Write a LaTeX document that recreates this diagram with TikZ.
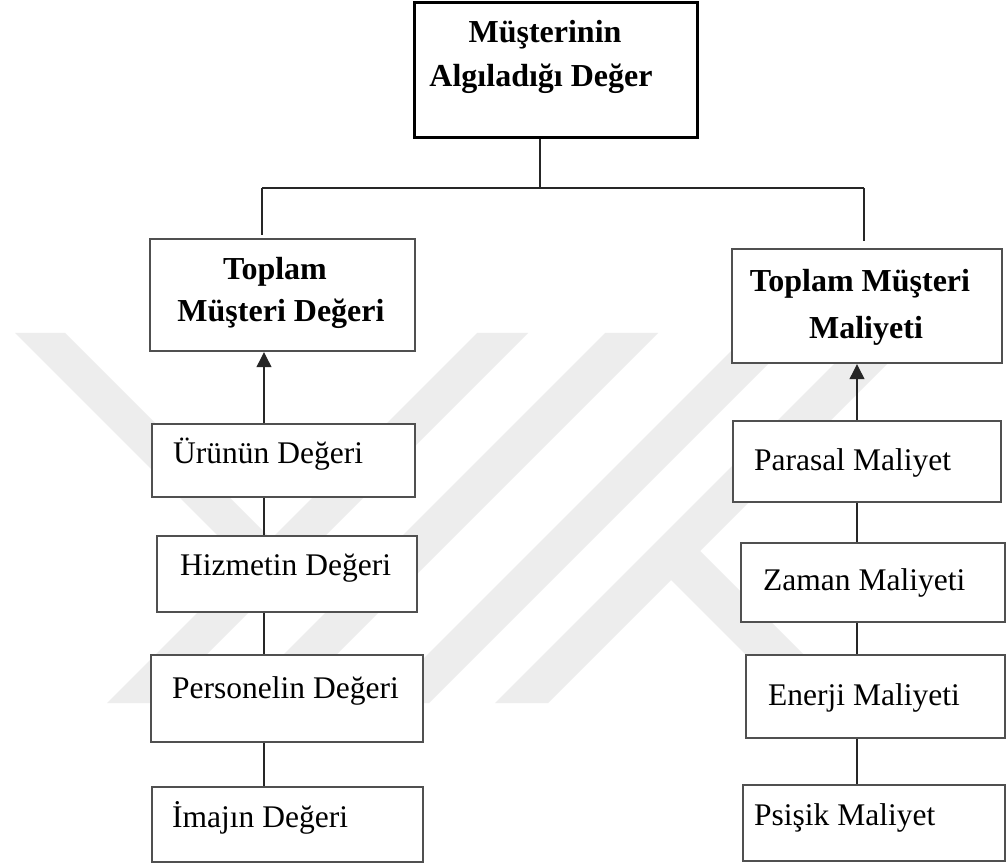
\documentclass[tikz,border=0pt]{standalone}
\usepackage{fontspec}
\newfontfamily\tnr{Liberation Serif}
\usetikzlibrary{arrows.meta,fit}
\definecolor{wm}{RGB}{237,237,237}
\definecolor{bord}{RGB}{80,80,80}
\begin{document}
\begin{tikzpicture}[x=1pt,y=-1pt,
  boxst/.style={draw=bord,fill=white,line width=2.4pt,inner sep=0pt},
  topbox/.style={draw=black,fill=white,line width=3pt,inner sep=0pt},
  reg/.style={font=\tnr\fontsize{31.5}{38}\selectfont,inner sep=0pt,anchor=base west},
  bld/.style={font=\tnr\bfseries\fontsize{32}{38}\selectfont,inner sep=0pt,anchor=base},
  link/.style={draw=black!85,line width=1.2pt},
  arr/.style={link,-{Triangle[width=15pt,length=15pt]}}
]
\useasboundingbox[fill=white] (0,0) rectangle (1006,866);
% watermark
\fill[wm] (15,333) -- (65,333) -- (296,564) -- (271,589) -- cycle;
\fill[wm] (477,333) -- (528,333) -- (158,703) -- (107,703) -- cycle;
\fill[wm] (605,333) -- (658,333) -- (288,703) -- (235,703) -- cycle;
\fill[wm] (749,333) -- (799,333) -- (429,703) -- (379,703) -- cycle;
\fill[wm] (865,333) -- (918,333) -- (548,703) -- (495,703) -- cycle;
\fill[wm] (665.5,574.5) -- (694.5,545.5) -- (852,703) -- (794,703) -- cycle;

% boxes
\node[topbox,fit={(414,3)(697,138)}] (top) {};
\node[boxst,fit={(150,239)(415,351)}] (tmd) {};
\node[boxst,fit={(732,249)(1002,363)}] (tmm) {};
\node[boxst,fit={(152,424)(415,497)}] (urun) {};
\node[boxst,fit={(157,536)(417,612)}] (hizm) {};
\node[boxst,fit={(151,655)(423,742)}] (pers) {};
\node[boxst,fit={(152,787)(423,862)}] (imaj) {};
\node[boxst,fit={(733,421)(1001,502)}] (para) {};
\node[boxst,fit={(741,543)(1005,622)}] (zama) {};
\node[boxst,fit={(746,655)(1005,738)}] (ener) {};
\node[boxst,fit={(743,785)(1005,861)}] (psis) {};

% texts
\node[bld] (t1a) at (545,43) {Müşterinin};
\node[bld] (t1b) at (541,87) {Algıladığı Değer};
\node[bld] (t2a) at (275,280) {Toplam};
\node[bld] (t2b) at (281,322) {Müşteri Değeri};
\node[bld] (t3a) at (860,292) {Toplam Müşteri};
\node[bld] (t3b) at (866,338) {Maliyeti};
\node[reg] (l1) at (173,463) {Ürünün Değeri};
\node[reg] (l2) at (180,575) {Hizmetin Değeri};
\node[reg] (l3) at (172,698) {Personelin Değeri};
\node[reg] (l4) at (172,827) {İmajın Değeri};
\node[reg] (r1) at (754,470) {Parasal Maliyet};
\node[reg] (r2) at (763,590) {Zaman Maliyeti};
\node[reg] (r3) at (768,705) {Enerji Maliyeti};
\node[reg] (r4) at (754,825) {Psişik Maliyet};

% connectors
\coordinate (jn) at (540,188);
\coordinate (jl) at (262,188);
\coordinate (jr) at (864,188);
\coordinate (el) at (262,235);
\coordinate (er) at (864,241);
\coordinate (cl) at (264,0);
\coordinate (cr) at (857,0);
\draw[link] (top.south -| jn) -- (jn);
\draw[link] (jl) -- (jr);
\draw[link] (jl) -- (el);
\draw[link] (jr) -- (er);
\draw[arr] (urun.north -| cl) -- (tmd.south -| cl);
\draw[link] (urun.south -| cl) -- (hizm.north -| cl);
\draw[link] (hizm.south -| cl) -- (pers.north -| cl);
\draw[link] (pers.south -| cl) -- (imaj.north -| cl);
\draw[arr] (para.north -| cr) -- (tmm.south -| cr);
\draw[link] (para.south -| cr) -- (zama.north -| cr);
\draw[link] (zama.south -| cr) -- (ener.north -| cr);
\draw[link] (ener.south -| cr) -- (psis.north -| cr);
\end{tikzpicture}
\end{document}
